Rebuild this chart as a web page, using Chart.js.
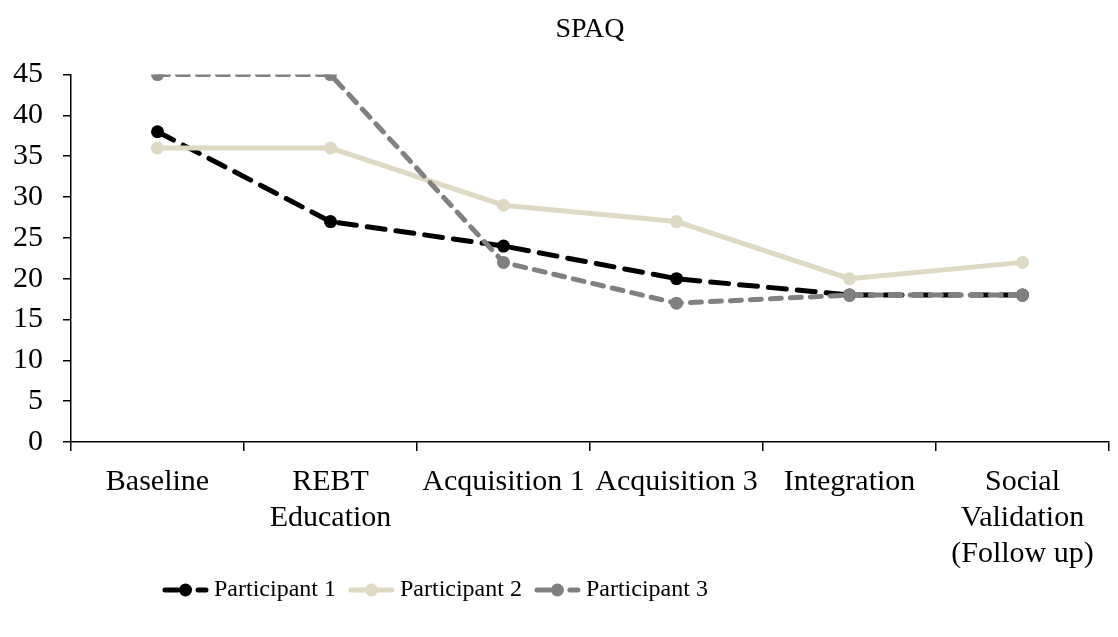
<!DOCTYPE html>
<html>
<head>
<meta charset="utf-8">
<script src="https://cdn.jsdelivr.net/npm/chart.js@4/dist/chart.umd.min.js"></script>
<style>
  html, body { margin: 0; padding: 0; background: #fff; }
  #wrap { width: 1118px; height: 637px; }
</style>
</head>
<body>
<div id="wrap"><canvas id="c" width="1118" height="637"></canvas></div>
<script>
const chartTitle = 'SPAQ';
const categories = [
  'Baseline',
  ['REBT', 'Education'],
  'Acquisition 1',
  'Acquisition 3',
  'Integration',
  ['Social', 'Validation', '(Follow up)']
];
const seriesNames = ['Participant 1', 'Participant 2', 'Participant 3'];
const participant1 = [38, 27, 24, 20, 18, 18];
const participant2 = [36, 36, 29, 27, 20, 22];
const participant3 = [45, 45, 22, 17, 18, 18];
const yTicks = [0, 5, 10, 15, 20, 25, 30, 35, 40, 45];

const FONT = "'Liberation Serif', 'Times New Roman', serif";
Chart.defaults.font.family = FONT;
Chart.defaults.color = '#000';

const legendPlugin = {
  id: 'seriesLegend',
  afterDraw(chart, args, opts) {
    const ctx = chart.ctx;
    ctx.save();
    ctx.font = opts.size + 'px ' + FONT;
    ctx.textBaseline = 'middle';
    ctx.textAlign = 'left';
    let x = opts.startX;
    const y = opts.y;
    chart.data.datasets.forEach(ds => {
      ctx.strokeStyle = ds.borderColor;
      ctx.lineWidth = ds.borderWidth;
      ctx.lineCap = 'round';
      ctx.setLineDash(ds.borderDash && ds.borderDash.length ? opts.dash : []);
      ctx.beginPath();
      ctx.moveTo(x + 2, y);
      ctx.lineTo(x + opts.markerWidth - 2, y);
      ctx.stroke();
      ctx.setLineDash([]);
      ctx.fillStyle = ds.pointBackgroundColor;
      ctx.beginPath();
      ctx.arc(x + opts.markerWidth / 2, y, ds.pointRadius, 0, Math.PI * 2);
      ctx.fill();
      ctx.fillStyle = '#000';
      ctx.fillText(ds.label, x + opts.markerWidth + opts.gap, y);
      x += opts.markerWidth + opts.gap + ctx.measureText(ds.label).width + opts.itemGap;
    });
    ctx.restore();
  }
};

new Chart(document.getElementById('c'), {
  type: 'line',
  data: {
    labels: categories,
    datasets: [
      {
        label: seriesNames[0], data: participant1,
        borderColor: '#000000', backgroundColor: '#000000',
        pointBackgroundColor: '#000000', pointBorderColor: '#000000',
        borderWidth: 5, borderDash: [18, 11], borderCapStyle: 'round',
        pointRadius: 6.5, pointBorderWidth: 0, tension: 0, order: 3
      },
      {
        label: seriesNames[1], data: participant2,
        borderColor: '#DDD9C3', backgroundColor: '#DDD9C3',
        pointBackgroundColor: '#DDD9C3', pointBorderColor: '#DDD9C3',
        borderWidth: 5, borderDash: [], borderCapStyle: 'round',
        pointRadius: 6.5, pointBorderWidth: 0, tension: 0, order: 2
      },
      {
        label: seriesNames[2], data: participant3,
        borderColor: '#808080', backgroundColor: '#808080',
        pointBackgroundColor: '#808080', pointBorderColor: '#808080',
        borderWidth: 5, borderDash: [11, 9], borderCapStyle: 'round',
        pointRadius: 6.5, pointBorderWidth: 0, tension: 0, order: 1
      }
    ]
  },
  options: {
    responsive: false,
    animation: false,
    devicePixelRatio: 1,
    layout: { padding: { left: 0, right: 9, top: 0, bottom: 66 } },
    plugins: {
      legend: { display: false },
      tooltip: { enabled: false },
      title: {
        display: true, text: chartTitle, color: '#000', fullSize: false,
        font: { family: FONT, size: 28, weight: 'normal', lineHeight: 1.2 },
        padding: { top: 13, bottom: 28 }
      },
      seriesLegend: {
        size: 24, startX: 163, y: 590, markerWidth: 45, gap: 6, itemGap: 13, dash: [13, 20]
      }
    },
    scales: {
      x: {
        type: 'category',
        offset: true,
        border: { display: true, color: '#000', width: 1.5 },
        grid: { offset: true, drawOnChartArea: false, drawTicks: true, tickLength: 9, color: '#000', lineWidth: 1.5 },
        ticks: { autoSkip: false, maxRotation: 0, minRotation: 0, padding: 13, color: '#000',
                 font: { family: FONT, size: 30, lineHeight: 1.2 } },
        afterFit(scale) { scale.height = 129; }
      },
      y: {
        min: 0, max: 45,
        afterBuildTicks(scale) { scale.ticks = yTicks.map(v => ({ value: v })); },
        border: { display: true, color: '#000', width: 1.5 },
        grid: { drawOnChartArea: false, drawTicks: true, tickLength: 8, color: '#000', lineWidth: 1.5 },
        ticks: { padding: 20, color: '#000', font: { family: FONT, size: 30 } },
        afterFit(scale) { scale.width = 71; }
      }
    }
  },
  plugins: [legendPlugin]
});
</script>
</body>
</html>
